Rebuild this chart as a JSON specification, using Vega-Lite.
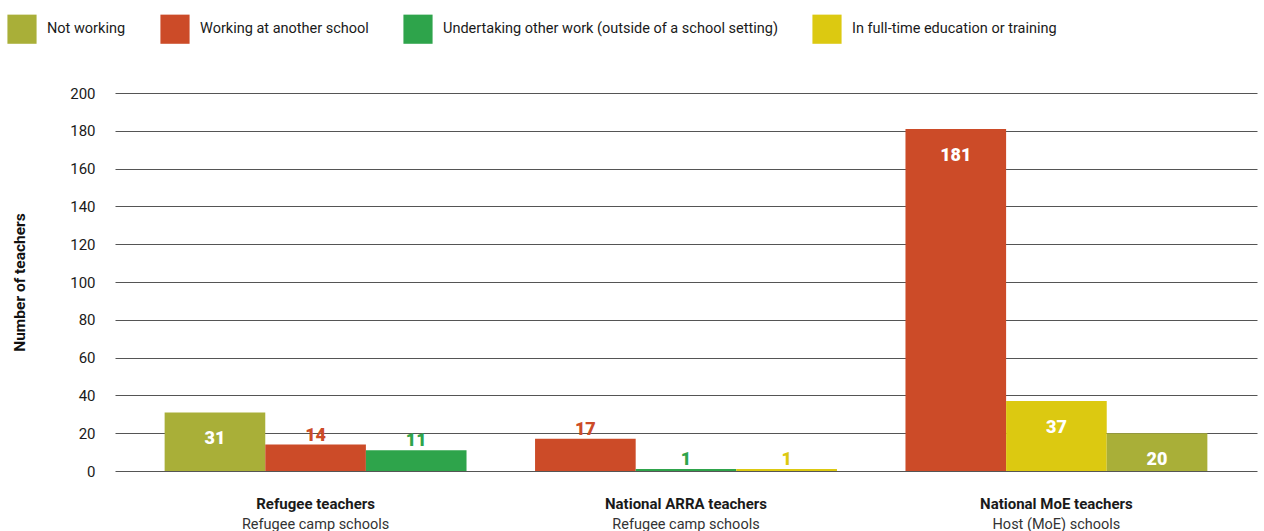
{
  "$schema": "https://vega.github.io/schema/vega-lite/v6.json",
  "autosize": {"type": "none"},
  "width": 1142,
  "height": 378,
  "padding": {"left": 115, "top": 93, "right": 7, "bottom": 60},
  "background": "white",
  "config": {
    "font": "Roboto",
    "view": {"stroke": null},
    "legend": {"labelFont": "Roboto"}
  },
  "data": {
    "values": [
      {"group": "Refugee teachers", "category": "Not working", "slot": 1, "value": 31},
      {"group": "Refugee teachers", "category": "Working at another school", "slot": 2, "value": 14},
      {"group": "Refugee teachers", "category": "Undertaking other work (outside of a school setting)", "slot": 3, "value": 11},
      {"group": "National ARRA teachers", "category": "Working at another school", "slot": 1, "value": 17},
      {"group": "National ARRA teachers", "category": "Undertaking other work (outside of a school setting)", "slot": 2, "value": 1},
      {"group": "National ARRA teachers", "category": "In full-time education or training", "slot": 3, "value": 1},
      {"group": "National MoE teachers", "category": "Working at another school", "slot": 1, "value": 181},
      {"group": "National MoE teachers", "category": "In full-time education or training", "slot": 2, "value": 37},
      {"group": "National MoE teachers", "category": "Not working", "slot": 3, "value": 20}
    ]
  },
  "resolve": {"axis": {"x": "independent", "y": "independent"}},
  "layer": [
    {
      "mark": {"type": "bar"},
      "encoding": {
        "x": {
          "field": "group", "type": "nominal", "sort": null,
          "scale": {"paddingInner": 0.185, "paddingOuter": 0.134},
          "axis": {
            "title": null, "domain": false, "ticks": false, "labelAngle": 0,
            "labelFontWeight": "bold", "labelFontSize": 15, "labelColor": "#1a1a1a",
            "labelPadding": 25, "labelBaseline": "top"
          }
        },
        "xOffset": {"field": "slot", "type": "ordinal", "scale": {"paddingInner": 0, "paddingOuter": 0}},
        "y": {
          "field": "value", "type": "quantitative",
          "scale": {"domain": [0, 200], "nice": false},
          "axis": {
            "title": "Number of teachers", "titleFontSize": 15.5, "titleFontWeight": "bold",
            "titleColor": "#111", "titlePadding": 42,
            "values": [0, 20, 40, 60, 80, 100, 120, 140, 160, 180, 200],
            "domain": false, "ticks": false, "labelPadding": 20,
            "labelFontSize": 15, "labelColor": "#1a1a1a",
            "grid": true, "gridColor": "#555", "gridWidth": 1
          }
        },
        "color": {
          "field": "category", "type": "nominal",
          "scale": {
            "domain": ["Not working", "Working at another school", "Undertaking other work (outside of a school setting)", "In full-time education or training"],
            "range": ["#A9AF38", "#CC4B28", "#2EA44B", "#DCC911"]
          },
          "legend": {
            "title": null, "orient": "none", "direction": "horizontal",
            "legendX": -108, "legendY": -79, "padding": 0,
            "symbolType": "square", "symbolSize": 850, "symbolStrokeWidth": 0,
            "labelFontSize": 14.5, "labelColor": "#1a1a1a", "labelOffset": 10,
            "columnPadding": 34, "labelLimit": 500
          }
        }
      }
    },
    {
      "transform": [{"filter": "datum.value >= 20"}],
      "mark": {"type": "text", "color": "white", "fontWeight": 900, "fontSize": 18, "baseline": "alphabetic", "dy": 32, "font": "Roboto"},
      "encoding": {
        "x": {
          "field": "group", "type": "nominal", "sort": null,
          "axis": {
            "orient": "bottom", "title": null, "domain": false, "ticks": false, "labelAngle": 0,
            "labelFontSize": 14.5, "labelColor": "#333", "labelPadding": 46, "labelBaseline": "top",
            "labelExpr": "datum.value == 'Refugee teachers' ? 'Refugee camp schools' : datum.value == 'National ARRA teachers' ? 'Refugee camp schools' : 'Host (MoE) schools'"
          }
        },
        "xOffset": {"field": "slot", "type": "ordinal"},
        "y": {"field": "value", "type": "quantitative", "axis": null},
        "text": {"field": "value", "type": "quantitative"}
      }
    },
    {
      "transform": [{"filter": "datum.value < 20"}],
      "mark": {"type": "text", "fontWeight": 900, "fontSize": 18, "baseline": "alphabetic", "dy": -4, "font": "Roboto"},
      "encoding": {
        "x": {"field": "group", "type": "nominal", "sort": null, "axis": null},
        "xOffset": {"field": "slot", "type": "ordinal"},
        "y": {"field": "value", "type": "quantitative", "axis": null},
        "text": {"field": "value", "type": "quantitative"},
        "color": {"field": "category", "type": "nominal", "legend": null}
      }
    }
  ]
}
